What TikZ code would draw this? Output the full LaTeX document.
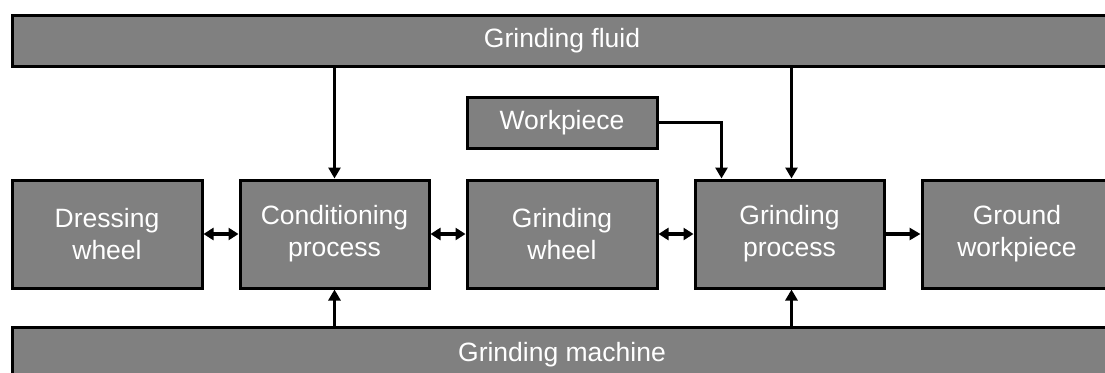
\documentclass[tikz,border=0pt]{standalone}
\usepackage{fontspec}
\setmainfont{Liberation Sans}
\usetikzlibrary{arrows.meta,calc}
\begin{document}
\begin{tikzpicture}[x=1pt,y=-1pt,
  block/.style={draw=black,fill=black!50,line width=3pt,text=white,
    minimum width=190pt,minimum height=108pt,inner sep=0pt,align=center,
    font=\fontsize{26.5}{32}\selectfont},
  bar/.style={block,minimum width=1100pt,minimum height=51pt},
  flow/.style={line width=3.2pt,-{Triangle[width=12pt,length=11pt]}},
  both/.style={line width=3.2pt,{Triangle[width=12pt,length=10pt]}-{Triangle[width=12pt,length=10pt]}}]
\useasboundingbox (0,0) rectangle (1105,372);
\clip (0,0) rectangle (1105,372);
% supply bars across the top and bottom
\node[bar] (fluid) at (562,40.5) {Grinding fluid};
\node[bar,minimum height=56pt] (machine) at (562,355) {Grinding machine};
% main chain of blocks
\node[block] (dress) at (107,234) {Dressing\\wheel};
\node[block,minimum width=189pt] (cond) at (334.5,234) {Conditioning\\process};
\node[block] (gwheel) at (562,234) {Grinding\\wheel};
\node[block,minimum width=189pt] (gproc) at (789.5,234) {Grinding\\process};
\node[block] (ground) at (1017,234) {Ground\\workpiece};
\node[block,minimum height=51pt] (work) at (562,122.5) {Workpiece};
% connectors
\draw[both] (dress) -- (cond);
\draw[both] (cond) -- (gwheel);
\draw[both] (gwheel) -- (gproc);
\draw[flow] (gproc) -- (ground);
\draw[flow] (fluid.south -| cond.north) -- (cond.north);
\draw[flow] ([xshift=2pt]fluid.south -| gproc.north) -- ([xshift=2pt]gproc.north);
\draw[flow] (work.east) -| ([xshift=28pt]gproc.north west);
\draw[flow] (machine.north -| cond.south) -- (cond.south);
\draw[flow] ([xshift=2pt]machine.north -| gproc.south) -- ([xshift=2pt]gproc.south);
\end{tikzpicture}
\end{document}
